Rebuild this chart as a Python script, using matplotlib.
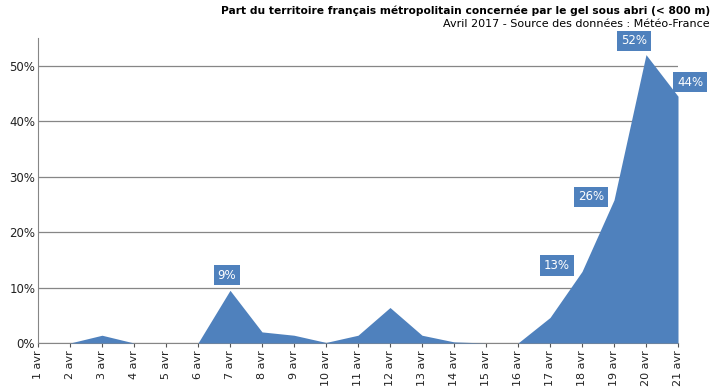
import matplotlib.pyplot as plt

# Data
days = [f"{d} avr" for d in range(1, 22)]
gel_pct = [0, 0, 1.4, 0, 0, 0, 9.5, 2.0, 1.4, 0.1, 1.4, 6.4, 1.4, 0.2, 0, 0, 4.6, 12.9, 25.8, 52, 44.5]

# labels shown on the chart: (index, text, x offset px, y offset px)
labels_idx = [6, 17, 18, 19, 20]
labels_txt = ["9%", "13%", "26%", "52%", "44%"]
labels_off = [(-3, 15), (-25, 6), (-23, 3), (-12, 14), (12, 14)]

blue = "#4f81bd"
grid_col = "#868686"

fig = plt.figure(figsize=(7.15, 3.87), dpi=100)
ax = fig.add_axes([38 / 715, 1 - 343 / 387, 640 / 715, 305 / 387])

x = list(range(len(days)))
ax.fill_between(x, gel_pct, 0, color=blue, linewidth=0, zorder=3)

ax.set_xlim(0, len(days) - 1)
ax.set_ylim(0, 55)
ax.set_yticks([0, 10, 20, 30, 40, 50])
ax.set_yticklabels([f"{v}%" for v in [0, 10, 20, 30, 40, 50]], fontsize=8.5, color="#222222")
ax.set_xticks(x)
ax.set_xticklabels(days, rotation=90, fontsize=8, color="#222222")
ax.yaxis.grid(True, color=grid_col, linewidth=0.9)
ax.set_axisbelow(True)
ax.tick_params(axis="y", length=0, pad=2)
ax.tick_params(axis="x", length=3, color="#555555", pad=2)

for s in ["top", "right"]:
    ax.spines[s].set_visible(False)
ax.spines["left"].set_color(grid_col)
ax.spines["bottom"].set_color(grid_col)

for i, t, (dx, dy) in zip(labels_idx, labels_txt, labels_off):
    ax.annotate(t, (i, gel_pct[i]), xytext=(dx, dy), textcoords="offset pixels",
                ha="center", va="center", fontsize=8.5, color="white", zorder=5,
                bbox=dict(boxstyle="square,pad=0.3", fc=blue, ec="none"),
                annotation_clip=False)

fig.text(710 / 715, 1 - 11 / 387, "Part du territoire français métropolitain concernée par le gel sous abri (< 800 m)",
         ha="right", va="center", fontsize=7.7, fontweight="bold")
fig.text(710 / 715, 1 - 24 / 387, "Avril 2017 - Source des données : Météo-France",
         ha="right", va="center", fontsize=8)

fig.savefig("out.png", dpi=100)
